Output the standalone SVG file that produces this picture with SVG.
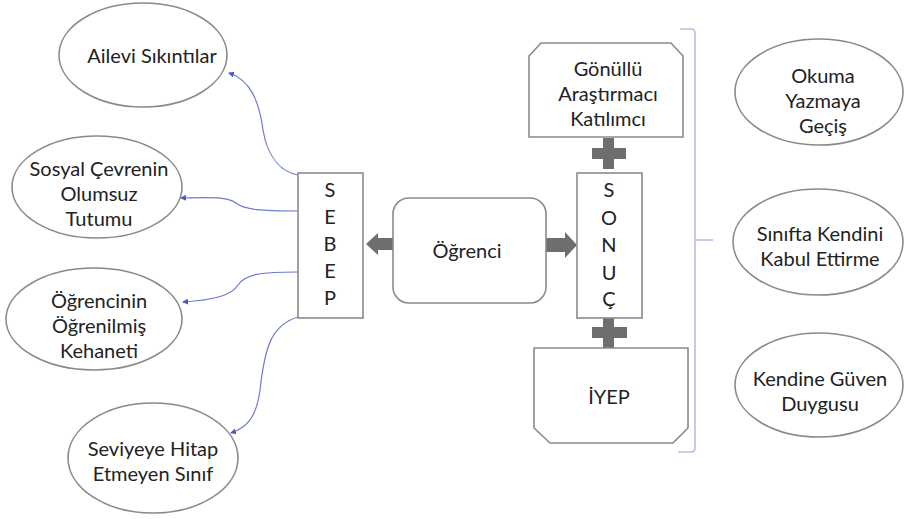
<svg xmlns="http://www.w3.org/2000/svg" width="907" height="519" viewBox="0 0 907 519">
<defs>
<style>
.sh{fill:#fff;stroke:#8a8a8a;stroke-width:1.6}
.t{font-family:Lato,"Open Sans",sans-serif;font-size:20px;fill:#222;text-anchor:middle;dominant-baseline:central}
.c{fill:none;stroke:#6d7bd0;stroke-width:1.2}
.g{fill:#6e6e6e}
.br{fill:none;stroke:#b9bde3;stroke-width:1.6}
</style>
<marker id="ah" viewBox="0 0 6 6" refX="5" refY="3" markerWidth="6" markerHeight="6" orient="auto" markerUnits="userSpaceOnUse">
<path d="M0,0 L6,3 L0,6 z" fill="#4a5ac0"/>
</marker>
</defs>
<rect width="907" height="519" fill="#fff"/>

<g id="connectors">
<path class="c" marker-end="url(#ah)" d="M298,175 C283,172 268,160 263,130 C259,100 250,80 229,73"/>
<path class="c" marker-end="url(#ah)" d="M298,211 C262,211 245,210 236,203 C228,197 215,197 181,198"/>
<path class="c" marker-end="url(#ah)" d="M298,272 C262,272 245,274 238,285 C232,295 215,300 183,302"/>
<path class="c" marker-end="url(#ah)" d="M298,317 C272,325 265,345 260,390 C256,420 245,428 231,433"/>
<polygon class="g" points="366,244 378,233 378,238 393,238 393,250 378,250 378,255"/>
<polygon class="g" points="546,238 565,238 565,232 577,245 565,258 565,252 546,252"/>
<polygon class="g" points="603,138 614,138 614,148 626,148 626,159 614,159 614,169 603,169 603,159 592,159 592,148 603,148"/>
<polygon class="g" points="603,318 614,318 614,327 627,327 627,338 614,338 614,348 603,348 603,338 592,338 592,327 603,327"/>
<path class="br" d="M680,29 L691,29 Q695,29 695,33 L695,448 Q695,452 691,452 L678,452 M695,240 L713,240"/>
</g>

<g id="ailevi">
<ellipse class="sh" cx="143" cy="55" rx="84" ry="52"/>
<text class="t" x="152" y="55">Ailevi Sıkıntılar</text>
</g>
<g id="sosyal">
<ellipse class="sh" cx="97" cy="187" rx="85" ry="51"/>
<text class="t" x="99" y="168">Sosyal Çevrenin</text>
<text class="t" x="99" y="193">Olumsuz</text>
<text class="t" x="99" y="218">Tutumu</text>
</g>
<g id="ogrencinin">
<ellipse class="sh" cx="94" cy="319" rx="88" ry="51"/>
<text class="t" x="99" y="300">Öğrencinin</text>
<text class="t" x="99" y="325">Öğrenilmiş</text>
<text class="t" x="99" y="350">Kehaneti</text>
</g>
<g id="seviyeye">
<ellipse class="sh" cx="153" cy="458" rx="85" ry="55"/>
<text class="t" x="153" y="448">Seviyeye Hitap</text>
<text class="t" x="153" y="473">Etmeyen Sınıf</text>
</g>
<g id="sebep">
<rect class="sh" x="298" y="173" width="65" height="145"/>
<text class="t" x="330" y="189">S</text>
<text class="t" x="330" y="216">E</text>
<text class="t" x="330" y="243">B</text>
<text class="t" x="330" y="270">E</text>
<text class="t" x="330" y="297">P</text>
</g>
<g id="ogrenci">
<rect class="sh" x="393" y="198" width="153" height="105" rx="16"/>
<text class="t" x="467" y="250">Öğrenci</text>
</g>
<g id="sonuc">
<rect class="sh" x="577" y="173" width="65" height="145"/>
<text class="t" x="609" y="189">S</text>
<text class="t" x="609" y="217">O</text>
<text class="t" x="609" y="244">N</text>
<text class="t" x="609" y="272">U</text>
<text class="t" x="609" y="298">Ç</text>
</g>
<g id="gonullu">
<polygon class="sh" points="529,137 529,56 541,43 671,43 683,56 683,137"/>
<text class="t" x="608" y="68">Gönüllü</text>
<text class="t" x="608" y="93">Araştırmacı</text>
<text class="t" x="608" y="118">Katılımcı</text>
</g>
<g id="iyep">
<polygon class="sh" points="534,348 688,348 688,428 673,443 550,443 534,428"/>
<text class="t" x="609" y="396">İYEP</text>
</g>
<g id="okuma">
<ellipse class="sh" cx="819" cy="92" rx="84" ry="53"/>
<text class="t" x="823" y="75">Okuma</text>
<text class="t" x="823" y="100">Yazmaya</text>
<text class="t" x="823" y="125">Geçiş</text>
</g>
<g id="sinifta">
<ellipse class="sh" cx="818" cy="242" rx="85" ry="53"/>
<text class="t" x="820" y="233">Sınıfta Kendini</text>
<text class="t" x="820" y="258">Kabul Ettirme</text>
</g>
<g id="kendine">
<ellipse class="sh" cx="819" cy="385" rx="84" ry="52"/>
<text class="t" x="820" y="378">Kendine Güven</text>
<text class="t" x="820" y="403">Duygusu</text>
</g>
</svg>
